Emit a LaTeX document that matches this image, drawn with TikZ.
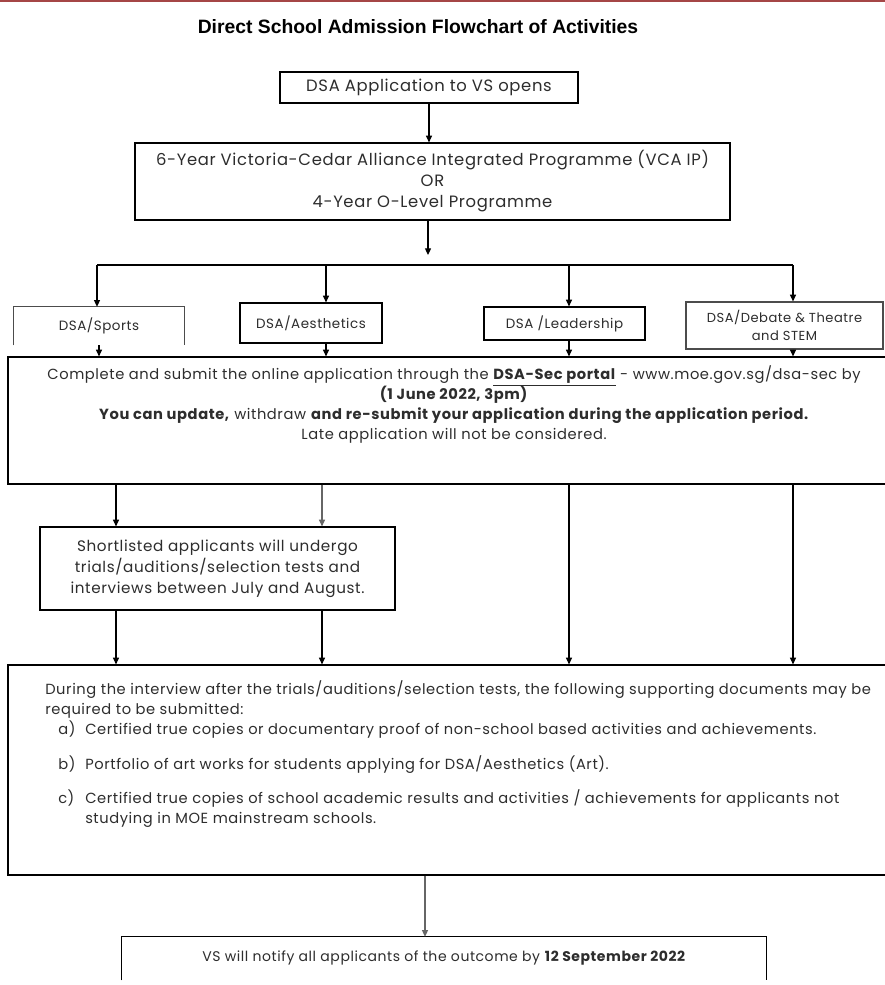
\documentclass[tikz,border=0pt]{standalone}
\usepackage{fontspec}
\setmainfont{Poppins}[LetterSpace=4.0]
\newfontfamily\titlefont{Liberation Sans}
\usepackage{xcolor}
\usetikzlibrary{
  arrows.meta,
  calc,
  positioning
}
\definecolor{inkgray}{RGB}{45,45,45}
\definecolor{topred}{RGB}{165,70,70}

\tikzset{
  flowbox/.style={draw=black, line width=0.9pt, align=center, inner sep=0pt, text=inkgray},
  flowarrow/.style={draw=black, line width=0.9pt, -{Triangle[length=5pt,width=4.5pt]}},
  flowline/.style={draw=black, line width=0.9pt}
}

\begin{document}
\begin{tikzpicture}[x=0.75pt, y=-0.75pt, font=\fontsize{11}{15}\selectfont]
  \useasboundingbox (0,0) rectangle (885,985);
  \fill[white] (0,0) rectangle (885,985);
  \draw[topred, line width=1.2pt] (0,0.8) -- (885,0.8);

  % Title
  \node[font=\titlefont\bfseries\fontsize{14.5}{17}\selectfont] (title) at (418,27)
    {Direct School Admission Flowchart of Activities};

  % Top of the flow
  \node[flowbox, minimum width=223.5pt, minimum height=23.25pt, font=\fontsize{12.3}{15.75}\selectfont]
    (open) at (429,87.5) {DSA Application to VS opens};
  \node[flowbox, minimum width=446.25pt, minimum height=57.75pt, font=\fontsize{12.3}{15.75}\selectfont]
    (prog) at (432.5,181.5)
    {6-Year Victoria-Cedar Alliance Integrated Programme (VCA IP)\\ OR\\ 4-Year O-Level Programme};

  % Fork
  \coordinate (fork) at (428,255);
  \coordinate (colS) at (97,265);
  \coordinate (colA) at (326,265);
  \coordinate (colL) at (569,265);
  \coordinate (colD) at (793,265);

  % DSA categories
  \node[minimum width=127.5pt, minimum height=28.5pt, inner sep=0pt, text=inkgray, font=\fontsize{10.1}{13}\selectfont]
    (sports) at (99,326) {DSA/Sports};
  \draw[black!70, line width=0.9pt] (sports.south west) -- (sports.north west) -- (sports.north east) -- (sports.south east);
  \node[flowbox, minimum width=106.5pt, minimum height=30pt, font=\fontsize{10.1}{13}\selectfont]
    (aes) at (311,323) {DSA/Aesthetics};
  \node[flowbox, minimum width=120.75pt, minimum height=24.75pt, font=\fontsize{10.1}{13}\selectfont]
    (lead) at (564.5,323.5) {DSA /Leadership};
  \node[flowbox, draw=black!70, minimum width=147.75pt, minimum height=35.25pt, font=\fontsize{9.8}{13.5}\selectfont]
    (debate) at (784.5,325.5) {DSA/Debate \& Theatre\\ and STEM};

  % Online application
  \node[flowbox, minimum width=669pt, minimum height=95.25pt] (apply) at (454,420.5)
    {Complete and submit the online application through the \underline{\textbf{DSA-Sec portal}} - www.moe.gov.sg/dsa-sec by\\
     \textbf{(1 June 2022, 3pm)}\\
     \textbf{You can update,} withdraw \textbf{and re-submit your application during the application period.}\\
     Late application will not be considered.\\[12pt]\mbox{}};

  % Trials and interviews
  \node[flowbox, minimum width=266.25pt, minimum height=62.25pt, font=\fontsize{11.4}{15.75}\selectfont]
    (short) at (217.5,568.5)
    {Shortlisted applicants will undergo\\ trials/auditions/selection tests and\\ interviews between July and August.};

  % Supporting documents
  \node[flowbox, minimum width=669pt, minimum height=157.5pt] (docs) at (454,770) {};
  \node[anchor=north west, align=left, inner sep=0pt, text=inkgray] (docstext) at (45,680.5)
    {During the interview after the trials/auditions/selection tests, the following supporting documents may be\\
     required to be submitted:\\
     \hspace*{9.75pt}\makebox[20.25pt][l]{a)}Certified true copies or documentary proof of non-school based activities and achievements.\\[11pt]
     \hspace*{9.75pt}\makebox[20.25pt][l]{b)}Portfolio of art works for students applying for DSA/Aesthetics (Art).\\[11pt]
     \hspace*{9.75pt}\makebox[20.25pt][l]{c)}Certified true copies of school academic results and activities / achievements for applicants not\\
     \hspace*{30pt}studying in MOE mainstream schools.};

  % Outcome
  \node[minimum width=483pt, minimum height=32.25pt, inner sep=0pt, text=inkgray, font=\fontsize{10.5}{13}\selectfont]
    (notify) at (444,958.5) {VS will notify all applicants of the outcome by \textbf{12 September 2022}};
  \draw[flowline] (notify.south west) -- (notify.north west) -- (notify.north east) -- (notify.south east);

  % Connectors
  \coordinate (sx1) at (116,500);
  \coordinate (sx2) at (322,500);
  \coordinate (fx) at (425,900);
  \draw[flowarrow] (open.south) -- (open.south |- prog.north);
  \draw[flowarrow] (prog.south -| fork) -- (fork);
  \draw[flowline] (colS) -- (colD);
  \foreach \c/\b in {colS/sports, colA/aes, colL/lead, colD/debate} {
    \draw[flowarrow] (\c) -- (\c |- \b.north);
  }
  \draw[flowarrow] (sports.south) -- (sports.south |- apply.north);
  \foreach \c/\b in {colA/aes, colL/lead, colD/debate} {
    \draw[flowarrow] (\c |- \b.south) -- (\c |- apply.north);
  }
  \draw[flowarrow] (sx1 |- apply.south) -- (sx1 |- short.north);
  \draw[flowarrow, draw=black!60] (sx2 |- apply.south) -- (sx2 |- short.north);
  \foreach \c in {sx1, sx2} {
    \draw[flowarrow] (\c |- short.south) -- (\c |- docs.north);
  }
  \foreach \c in {colL, colD} {
    \draw[flowarrow] (\c |- apply.south) -- (\c |- docs.north);
  }
  \draw[flowarrow, draw=black!60] (fx |- docs.south) -- (fx |- notify.north);
\end{tikzpicture}
\end{document}
